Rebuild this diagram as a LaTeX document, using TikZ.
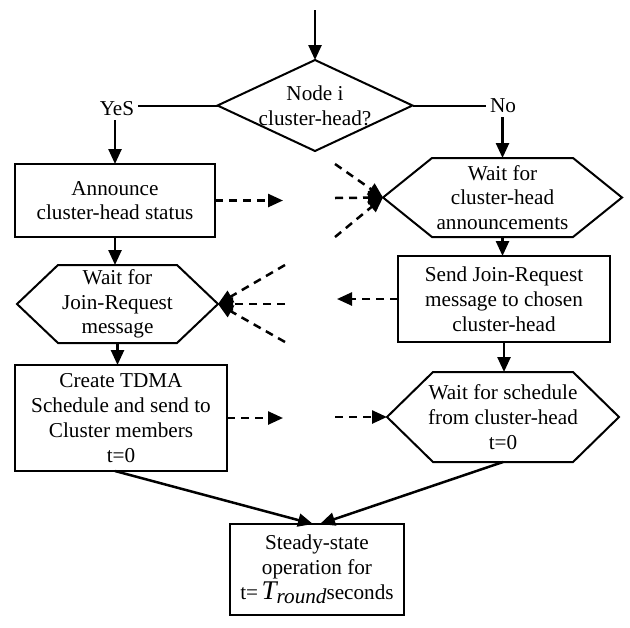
\documentclass[tikz,border=0pt]{standalone}
\usepackage{fontspec}
\setmainfont{Liberation Serif}
\usetikzlibrary{arrows.meta}
\tikzstyle{base}=[inner sep=0pt, outer sep=0pt, x=0.5pt, y=-0.5pt]
\tikzstyle{box}=[draw, line width=1pt, align=center]
\tikzstyle{hexbox}=[align=center]
\tikzstyle{answer}=[inner sep=2pt]
\tikzstyle{plain}=[line width=1pt]
\tikzstyle{flow}=[line width=1.25pt, -{Triangle[length=7.5pt,width=6.5pt]}]
\tikzstyle{msg}=[flow, dash pattern=on 4pt off 3pt]
\newcommand*{\hexa}[2]{\draw [plain] (#1.west) -- ([xshift=#2]#1.north west) -- ([xshift=-#2]#1.north east) -- (#1.east) -- ([xshift=-#2]#1.south east) -- ([xshift=#2]#1.south west) -- cycle;}

\begin{document}
\begin{tikzpicture}[base]
    \fontsize{10.6}{12.4}\selectfont
        \path [use as bounding box] (0,0) rectangle (630,627);
        % decision
        \node [hexbox, minimum width=97.5pt, minimum height=45.5pt] (dec) at (315,105.5) {Node i\\cluster-head?};
        \draw [plain] (dec.north) -- (dec.east) -- (dec.south) -- (dec.west) -- cycle;
        \node [answer] (yes) at (117,109) {YeS};
        \node [answer] (no) at (503,106) {No};
        % cluster-head side
        \node [box, minimum width=100pt, minimum height=36.5pt] (ann) at (115,200.5) {Announce\\cluster-head status};
        \node [hexbox, minimum width=100.5pt, minimum height=39pt] (jwait) at (117.5,304) {Wait for\\Join-Request\\message};
        \hexa{jwait}{20.5pt}
        \node [box, minimum width=106pt, minimum height=53pt] (tdma) at (121,418) {Create TDMA\\Schedule and send to\\Cluster members\\t=0};
        % member side
        \node [hexbox, minimum width=119.5pt, minimum height=39.5pt] (chwait) at (502.5,197.5) {Wait for\\cluster-head\\announcements};
        \hexa{chwait}{24.5pt}
        \node [box, minimum width=106pt, minimum height=43pt] (sendjr) at (504,299) {Send Join-Request\\message to chosen\\cluster-head};
        \node [hexbox, minimum width=116pt, minimum height=45pt] (swait) at (503,417) {Wait for schedule\\from cluster-head\\t=0};
        \hexa{swait}{23pt}
        \node [box, minimum width=87pt, minimum height=45.5pt] (steady) at (317,569.5) {Steady-state\\operation for\\t=\,{\fontsize{13.5}{12}\selectfont\itshape T}\raisebox{-0.45ex}{\itshape round}seconds};
        % free ends
        \coordinate (start) at (315,10);
        \coordinate (annout) at (283,200.5);
        \coordinate (sendout) at (337,299);
        \coordinate (tdmaout) at (283,418);
        \coordinate (swaitin) at (335,417);
        \foreach \y [count=\i] in {164,198,237} \coordinate (chin\i) at (335,\y);
        \foreach \y [count=\i] in {265,304,342} \coordinate (jin\i) at (285,\y);
        % flow
        \draw [flow] (start) -- (dec.north);
        \draw [plain] (dec.west) -- (dec.west -| yes.east);
        \draw [plain] (dec.east) -- (dec.east -| no.west);
        \draw [flow] (yes.south -| ann.north) -- (ann.north);
        \draw [flow] (no.south -| chwait.north) -- (chwait.north);
        \draw [flow] (ann.south) -- (ann.south |- jwait.north);
        \draw [flow] (jwait.south) -- (jwait.south |- tdma.north);
        \draw [flow] (chwait.south) -- (chwait.south |- sendjr.north);
        \draw [flow] (sendjr.south) -- (sendjr.south |- swait.north);
        \draw [flow] ([xshift=-3pt]tdma.south) -- ([xshift=-2pt]steady.north);
        \draw [flow] (swait.south) -- ([xshift=1.5pt]steady.north);
        % messages
        \draw [msg] (ann.east) -- (annout);
        \foreach \i in {1,2,3} \draw [msg] (chin\i) -- (chwait.west);
        \draw [msg] (sendjr.west) -- (sendout);
        \foreach \i in {1,2,3} \draw [msg] (jin\i) -- (jwait.east);
        \draw [msg] (tdma.east) -- (tdmaout);
        \draw [msg] (swaitin) -- (swait.west);
    \end{tikzpicture}
\end{document}
